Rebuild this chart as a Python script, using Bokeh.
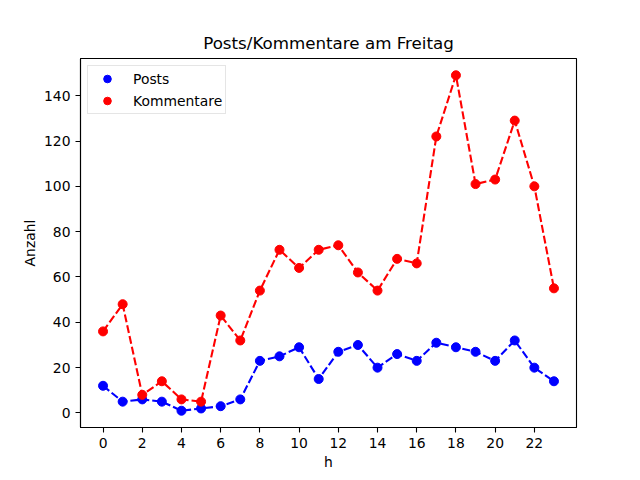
from bokeh.plotting import figure
from bokeh.models import Range1d, FixedTicker, Legend, LegendItem
from bokeh.embed import file_html
from bokeh.resources import INLINE

hours = list(range(24))
posts = [12, 5, 6, 5, 1, 2, 3, 6, 23, 25, 29, 15, 27, 30, 20, 26, 23, 31, 29, 27, 23, 32, 20, 14]
kommentare = [36, 48, 8, 14, 6, 5, 43, 32, 54, 72, 64, 72, 74, 62, 54, 68, 66, 122, 149, 101, 103, 129, 100, 55]
x_ticks = list(range(0, 24, 2))
y_ticks = list(range(0, 141, 20))

FONT = "DejaVu Sans"

p = figure(width=632, height=472, output_backend="svg", toolbar_location=None,
           title="Posts/Kommentare am Freitag",
           x_range=Range1d(-1.15, 24.15), y_range=Range1d(-6.4, 156.4),
           min_border_left=80, min_border_right=56, min_border_top=58, min_border_bottom=45)

p.title.align = "center"
p.title.text_font = FONT
p.title.text_font_size = "16.7px"
p.title.text_font_style = "normal"
p.title.text_color = "black"
p.title.standoff = 11

p.xgrid.visible = False
p.ygrid.visible = False
p.outline_line_color = "black"
p.outline_line_width = 1.1
p.outline_line_alpha = 1

for ax in (p.xaxis[0], p.yaxis[0]):
    ax.major_tick_in = 0
    ax.major_tick_out = 5
    ax.minor_tick_line_color = None
    ax.axis_line_width = 1.1
    ax.major_tick_line_width = 1.1
    ax.major_label_text_font = FONT
    ax.major_label_text_font_size = "13.9px"
    ax.major_label_text_color = "black"
    ax.axis_label_text_font = FONT
    ax.axis_label_text_font_size = "13.9px"
    ax.axis_label_text_font_style = "normal"
    ax.axis_label_text_color = "black"
    ax.major_label_standoff = 5
    ax.axis_label_standoff = 3

p.xaxis.ticker = FixedTicker(ticks=x_ticks)
p.yaxis.ticker = FixedTicker(ticks=y_ticks)
p.xaxis.axis_label = "h"
p.yaxis.axis_label = "Anzahl"

p.line(hours, posts, line_color="#0000ff", line_width=2.1, line_dash="8 3")
p.line(hours, kommentare, line_color="#ff0000", line_width=2.1, line_dash="8 3")
s1 = p.scatter(hours, posts, size=9, fill_color="#0000ff", line_color="#0000ff")
s2 = p.scatter(hours, kommentare, size=9, fill_color="#ff0000", line_color="#ff0000")

legend = Legend(items=[LegendItem(label="Posts", renderers=[s1]),
                       LegendItem(label="Kommentare", renderers=[s2])],
                location="top_left")
legend.margin = 7
legend.padding = 3
legend.spacing = 3
legend.glyph_width = 32
legend.glyph_height = 19
legend.label_height = 19
legend.label_standoff = 10
legend.label_text_font = FONT
legend.label_text_font_size = "13.9px"
legend.label_text_color = "black"
legend.border_line_color = "#cccccc"
legend.border_line_width = 1
legend.background_fill_alpha = 0.8
p.add_layout(legend)

open("out.html", "w").write(file_html(p, INLINE))
